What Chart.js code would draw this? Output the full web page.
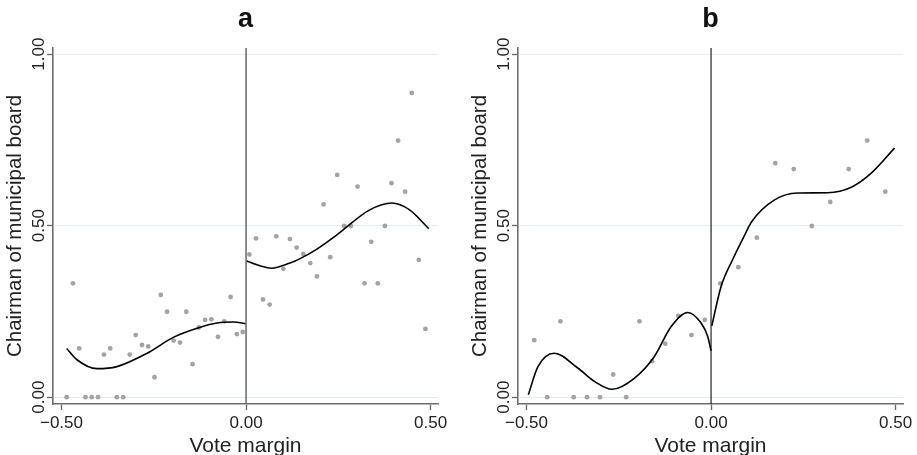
<!DOCTYPE html>
<html>
<head>
<meta charset="utf-8">
<script src="https://cdn.jsdelivr.net/npm/chart.js@4.4.1/dist/chart.umd.min.js"></script>
<style>
  body { margin: 0; background: #fff; }
  canvas { position: absolute; top: 0; }
  #chartA { left: 0; }
  #chartB { left: 465px; }
</style>
</head>
<body>
<canvas id="chartA" width="465" height="455"></canvas>
<canvas id="chartB" width="452" height="455"></canvas>
<script>
// tick labels
const xTicks = [-0.5, 0, 0.5];
const xTickLabels = ["\u22120.50", "0.00", "0.50"];
const yTicks = [0, 0.5, 1];
const yTickLabels = ["0.00", "0.50", "1.00"];
const cutoff = 0;

// panel a - binned means
const aX = [-0.486, -0.469, -0.452, -0.435, -0.418, -0.401, -0.385, -0.368, -0.350, -0.333,
    -0.315, -0.299, -0.282, -0.265, -0.248, -0.231, -0.214, -0.196, -0.179, -0.162,
    -0.145, -0.128, -0.111, -0.094, -0.076, -0.059, -0.042, -0.025, -0.009,
    0.009, 0.027, 0.046, 0.064, 0.082, 0.101, 0.119, 0.137, 0.155, 0.174,
    0.192, 0.210, 0.228, 0.247, 0.266, 0.284, 0.302, 0.321, 0.339, 0.357,
    0.376, 0.394, 0.412, 0.431, 0.449, 0.468, 0.486];
const aY = [0, 0.332, 0.142, 0, 0, 0, 0.124, 0.142, 0, 0,
    0.124, 0.181, 0.152, 0.148, 0.058, 0.298, 0.249, 0.165, 0.159, 0.249,
    0.096, 0.203, 0.225, 0.227, 0.176, 0.221, 0.292, 0.184, 0.190,
    0.416, 0.463, 0.285, 0.270, 0.469, 0.374, 0.461, 0.436, 0.418, 0.391,
    0.352, 0.562, 0.408, 0.648, 0.499, 0.499, 0.614, 0.332, 0.453, 0.332,
    0.499, 0.624, 0.748, 0.599, 0.887, 0.400, 0.199];

// panel a - fitted curves
const aFitLeftX = [-0.486, -0.458, -0.404, -0.35, -0.268, -0.196, -0.124, -0.079, -0.034, 0];
const aFitLeftY = [0.142, 0.109, 0.083, 0.089, 0.128, 0.175, 0.204, 0.216, 0.219, 0.214];
const aFitRightX = [0, 0.038, 0.069, 0.119, 0.141, 0.191, 0.236, 0.263, 0.335, 0.395, 0.443, 0.495];
const aFitRightY = [0.398, 0.383, 0.376, 0.391, 0.401, 0.431, 0.465, 0.488, 0.546, 0.566, 0.546, 0.491];

// panel b - binned means
const bX = [-0.479, -0.444, -0.408, -0.372, -0.336, -0.301, -0.265, -0.230, -0.194, -0.160,
    -0.124, -0.089, -0.053, -0.017,
    0.025, 0.074, 0.124, 0.174, 0.224, 0.273, 0.323, 0.373, 0.423, 0.472];
const bY = [0.166, 0, 0.221, 0, 0, 0, 0.066, 0, 0.221, 0.105,
    0.156, 0.237, 0.181, 0.225,
    0.332, 0.379, 0.465, 0.682, 0.665, 0.499, 0.569, 0.665, 0.748, 0.599];

// panel b - fitted curves
const bFitLeftX = [-0.495, -0.469, -0.425, -0.361, -0.316, -0.268, -0.208, -0.154, -0.108, -0.063, -0.027, -0.009, 0];
const bFitLeftY = [0.007, 0.089, 0.128, 0.085, 0.046, 0.023, 0.055, 0.118, 0.206, 0.247, 0.216, 0.177, 0.135];
const bFitRightX = [0.002, 0.027, 0.059, 0.09, 0.109, 0.172, 0.235, 0.316, 0.380, 0.434, 0.497];
const bFitRightY = [0.208, 0.322, 0.402, 0.470, 0.510, 0.575, 0.595, 0.596, 0.612, 0.653, 0.726];

const FONT = "'Liberation Sans', Arial, sans-serif";

function pts(xs, ys) {
    return xs.map((x, i) => ({ x: x, y: ys[i] }));
}

// title, rotated y tick labels and cutoff line
const extras = {
    id: "extras",
    afterDatasetsDraw(chart, args, opts) {
        const ctx = chart.ctx;
        const area = chart.chartArea;
        const xs = chart.scales.x;
        ctx.save();
        const cx = xs.getPixelForValue(cutoff);
        ctx.strokeStyle = opts.cutColor;
        ctx.lineWidth = opts.cutWidth;
        ctx.beginPath();
        ctx.moveTo(cx, area.top);
        ctx.lineTo(cx, area.bottom);
        ctx.stroke();
        ctx.restore();
    },
    afterDraw(chart, args, opts) {
        const ctx = chart.ctx;
        const area = chart.chartArea;
        const ys = chart.scales.y;
        ctx.save();
        ctx.fillStyle = "#111";
        ctx.font = "bold 27px " + FONT;
        ctx.textAlign = "center";
        ctx.textBaseline = "alphabetic";
        ctx.fillText(opts.title, (area.left + area.right) / 2, 26.5);
        ctx.font = "17px " + FONT;
        ctx.fillStyle = "#222";
        yTicks.forEach((v, i) => {
            const py = ys.getPixelForValue(v);
            ctx.save();
            ctx.translate(area.left - 9, py);
            ctx.rotate(-Math.PI / 2);
            ctx.fillText(yTickLabels[i], 0, 0);
            ctx.restore();
        });
        ctx.restore();
    }
};

function makeChart(id, title, sx, sy, flx, fly, frx, fry, rightPad, cutColor, cutWidth) {
    const fitStyle = {
        showLine: true,
        borderColor: "#000",
        borderWidth: 1.6,
        pointRadius: 0,
        cubicInterpolationMode: "monotone",
        fill: false
    };
    return new Chart(document.getElementById(id), {
        type: "scatter",
        data: {
            datasets: [
                Object.assign({ data: pts(flx, fly) }, fitStyle),
                Object.assign({ data: pts(frx, fry) }, fitStyle),
                {
                    data: pts(sx, sy),
                    backgroundColor: "#a3a3a3",
                    borderWidth: 0,
                    pointRadius: 2.4
                }
            ]
        },
        options: {
            responsive: false,
            animation: false,
            layout: { padding: { top: 48, left: 0, right: rightPad, bottom: 0 } },
            plugins: {
                legend: { display: false },
                tooltip: { enabled: false },
                extras: { title: title, cutColor: cutColor, cutWidth: cutWidth }
            },
            scales: {
                x: {
                    type: "linear",
                    min: -0.523,
                    max: 0.52,
                    afterBuildTicks: (s) => { s.ticks = xTicks.map(v => ({ value: v })); },
                    afterFit: (s) => { s.height = 51; },
                    ticks: {
                        padding: 3,
                        color: "#222",
                        font: { family: FONT, size: 17 },
                        callback: (v) => xTickLabels[xTicks.indexOf(v)]
                    },
                    grid: { drawOnChartArea: false, tickLength: 6, tickColor: "#666", tickWidth: 1.3 },
                    border: { color: "#6e6e6e", width: 1.6 },
                    title: {
                        display: true,
                        text: "Vote margin",
                        color: "#222",
                        font: { family: FONT, size: 21, lineHeight: 1.0 },
                        padding: { top: 0, bottom: -2 }
                    }
                },
                y: {
                    type: "linear",
                    min: -0.02,
                    max: 1.018,
                    afterBuildTicks: (s) => { s.ticks = yTicks.map(v => ({ value: v })); },
                    afterFit: (s) => { s.width = 53; },
                    ticks: { display: false },
                    grid: { color: "#e4eeee", lineWidth: 1, tickLength: 6, tickColor: "#666", tickWidth: 1.3 },
                    border: { color: "#6e6e6e", width: 1.6 },
                    title: {
                        display: true,
                        text: "Chairman of municipal board",
                        color: "#222",
                        font: { family: FONT, size: 20.5 },
                        padding: { top: 3.5, bottom: 0 }
                    }
                }
            }
        },
        plugins: [extras]
    });
}

makeChart("chartA", "a", aX, aY, aFitLeftX, aFitLeftY, aFitRightX, aFitRightY, 27, "#707070", 1.6);
makeChart("chartB", "b", bX, bY, bFitLeftX, bFitLeftY, bFitRightX, bFitRightY, 14, "#111", 1.1);
</script>
</body>
</html>
